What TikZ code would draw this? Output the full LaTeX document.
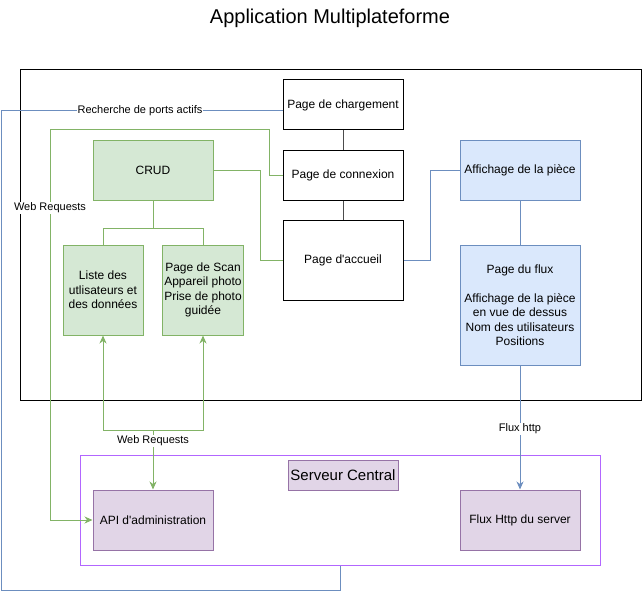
\documentclass[tikz,border=0pt]{standalone}
\usepackage{fontspec}
\setmainfont{Liberation Sans}[Ligatures=TeXOff]
\usetikzlibrary{arrows.meta}
\definecolor{gfill}{HTML}{D5E8D4}
\definecolor{gline}{HTML}{82B366}
\definecolor{bfill}{HTML}{DAE8FC}
\definecolor{bline}{HTML}{6C8EBF}
\definecolor{pfill}{HTML}{E1D5E7}
\definecolor{pline}{HTML}{9673A6}
\definecolor{sline}{HTML}{B266FF}
\begin{document}
\begin{tikzpicture}[x=1pt,y=-1pt,
  every node/.style={font=\fontsize{12}{14.5}\selectfont, align=center, inner sep=2pt},
  plainbox/.style={draw=black, fill=white, line width=1pt},
  greenbox/.style={draw=gline, fill=gfill, line width=1pt},
  bluebox/.style={draw=bline, fill=bfill, line width=1pt},
  purplebox/.style={draw=pline, fill=pfill, line width=1pt},
  gedge/.style={draw=gline, line width=1pt},
  bedge/.style={draw=bline, line width=1pt},
  tip/.style={-{Stealth[length=8pt,width=7pt,inset=2.5pt]}},
  rtip/.style={{Stealth[length=8pt,width=7pt,inset=2.5pt]}-},
  elabel/.style={fill=white, font=\fontsize{11}{13}\selectfont, inner sep=1pt}
]
\useasboundingbox (0,0) rectangle (642,591);
\node[font=\fontsize{20}{24}\selectfont] (title) at (330,18) {Application Multiplateforme};

\node[draw=black, line width=1pt, minimum width=621pt, minimum height=330pt] (app) at (330.5,235) {};
\node[draw=sline, line width=1pt, minimum width=520pt, minimum height=110pt] (server) at (340,510) {};

\node[plainbox, minimum width=120pt, minimum height=50pt] (charg) at (343,105) {Page de chargement};
\node[plainbox, minimum width=120pt, minimum height=50pt] (conn) at (343,175) {Page de connexion};
\node[plainbox, minimum width=120pt, minimum height=80pt] (accueil) at (343,260) {Page d'accueil};

\node[greenbox, minimum width=120pt, minimum height=60pt] (crud) at (153,170) {CRUD};
\node[greenbox, minimum width=80pt, minimum height=90pt] (liste) at (103,290) {Liste des\\utlisateurs et\\des données};
\node[greenbox, minimum width=80pt, minimum height=90pt] (scan) at (203,290) {Page de Scan\\Appareil photo\\Prise de photo\\guidée};

\node[bluebox, minimum width=120pt, minimum height=60pt] (aff) at (520,170) {Affichage de la pièce};
\node[bluebox, minimum width=120pt, minimum height=120pt] (flux) at (520,305) {Page du flux\\[14.5pt]Affichage de la pièce\\en vue de dessus\\Nom des utilisateurs\\Positions};

\node[purplebox, minimum width=110pt, minimum height=30pt, font=\fontsize{15}{18}\selectfont] (slabel) at (343,475) {Serveur Central};
\node[purplebox, minimum width=120pt, minimum height=60pt] (api) at (153,520) {API d'administration};
\node[purplebox, minimum width=120pt, minimum height=60pt] (fhttp) at (520,520) {Flux Http du server};

% black links
\draw[black!70, line width=1pt] (charg) -- (conn);
\draw[black!70, line width=1pt] (conn) -- (accueil);

% green links
\draw[gedge] (crud.south) -- ++(0,28) -| (liste.north);
\draw[gedge] (crud.south) -- ++(0,28) -| (scan.north);
\draw[gedge] (crud.east) -- ++(47,0) |- (accueil.west);
\draw[gedge, tip] (conn.west) -- ++(-13,0) |- (50,130) |- (api.west);
\node[elabel] (wrl) at (50,208) {Web Requests};

\coordinate (wr) at (153,430);
\draw[gedge, rtip] (liste.south) |- (wr);
\draw[gedge, rtip] (scan.south) |- (wr);
\draw[gedge, tip] (wr) -- (api.north);
\node[elabel] (wrb) at (153,441) {Web Requests};

% blue links
\draw[bedge] ([yshift=-6pt]charg.west) -- (1,111) -- (1,590) -| (server.south);
\node[elabel] (rpa) at (140,111) {Recherche de ports actifs};
\draw[bedge] (accueil.east) -- ++(27,0) |- (aff.west);
\draw[bedge] (aff) -- (flux);
\draw[bedge, tip] (flux) -- (fhttp);
\node[elabel] (fh) at (520,429) {Flux http};
\end{tikzpicture}
\end{document}
